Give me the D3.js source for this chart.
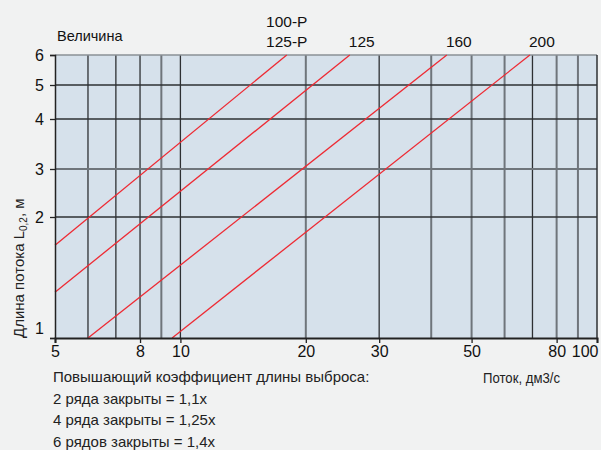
<!DOCTYPE html>
<html><head><meta charset="utf-8">
<script src="https://cdn.jsdelivr.net/npm/d3@7"></script>
<style>
body{margin:0;background:#f1f2f2;}
svg{display:block;font-family:"Liberation Sans",Arial,sans-serif;}
</style></head>
<body><svg id="c" width="601" height="450"></svg>
<script>
// ---- data ----
const xTickLabels = [5, 8, 10, 20, 30, 50, 80, 100];
const xGrid = [6, 7, 8, 9, 10, 20, 30, 40, 50, 60, 70, 80, 90];
const xGridDark = [6, 7, 8, 10, 30, 70];
const yTickLabels = [1, 2, 3, 4, 5, 6];
const yGrid = [2, 3, 4, 5];
const yGridDark = [2, 4, 5];
// each series: two endpoints [flow dm3/s, length m]
const seriesNames = ["100-Р\n125-Р", "125", "160", "200"];
const seriesFlow = [[5, 18.0], [5, 25.5], [6.0, 43.6], [9.55, 69.0]];
const seriesLength = [[1.70, 6], [1.30, 6], [1, 6], [1, 6]];
const noteLines = ["Повышающий коэффициент длины выброса:", "2 ряда закрыты = 1,1x", "4 ряда закрыты = 1,25x", "6 рядов закрыты = 1,4x"];

const svg = d3.select("#c");
const L = 55, R = 597, T = 55, B = 338;
const x = d3.scaleLog().domain([5, 100]).range([L, R]);
const y = d3.scaleLog().domain([1, 2, 3, 4, 5, 6]).range([B, 217, 169, 119, 85, T]);

svg.append("rect").attr("x", L).attr("y", T).attr("width", R - L).attr("height", B - T).attr("fill", "#d6e1eb");

// grid
svg.append("g").selectAll("line").data(xGrid).join("line")
  .attr("x1", d => x(d)).attr("x2", d => x(d)).attr("y1", T).attr("y2", B)
  .attr("stroke", d => xGridDark.includes(d) ? "#2e3033" : "#6f757b")
  .attr("stroke-width", d => xGridDark.includes(d) ? 1.3 : 2);
svg.append("g").selectAll("line").data(yGrid).join("line")
  .attr("y1", d => y(d)).attr("y2", d => y(d)).attr("x1", L).attr("x2", R)
  .attr("stroke", d => yGridDark.includes(d) ? "#2e3033" : "#6f757b")
  .attr("stroke-width", d => yGridDark.includes(d) ? 1.3 : 2);
// borders
svg.append("line").attr("x1", L).attr("x2", R).attr("y1", T).attr("y2", T).attr("stroke", "#8a9096").attr("stroke-width", 1.5);
svg.append("line").attr("x1", R).attr("x2", R).attr("y1", T).attr("y2", B).attr("stroke", "#2e3033").attr("stroke-width", 1.5);

// red lines
const line = d3.line().x(d => x(d[0])).y(d => y(d[1]));
seriesFlow.forEach((fl, i) => {
  const pts = fl.map((f, j) => [f, seriesLength[i][j]]);
  svg.append("path").attr("d", line(pts)).attr("fill", "none").attr("stroke", "#ee2a33").attr("stroke-width", 1.3);
});

// axes
const xAxis = d3.axisBottom(x).tickValues(xTickLabels).tickFormat(d3.format("d")).tickSize(5).tickPadding(3);
const gx = svg.append("g").attr("transform", `translate(0,${B})`).call(xAxis);
gx.select(".domain").attr("stroke", "#222").attr("stroke-width", 2);
gx.selectAll(".tick line").attr("stroke", "#222").attr("stroke-width", 1.3);
gx.selectAll("text").attr("font-size", 16).attr("fill", "#111").attr("font-family", "Liberation Sans, Arial");
gx.selectAll("text").filter(d => d === 100).attr("text-anchor", "end").attr("dx", 1);

const yAxis = d3.axisLeft(y).tickValues(yTickLabels).tickFormat(d3.format("d")).tickSize(5).tickPadding(6);
const gy = svg.append("g").attr("transform", `translate(${L},0)`).call(yAxis);
gy.select(".domain").attr("stroke", "#222").attr("stroke-width", 1.5);
gy.selectAll(".tick line").attr("stroke", "#222").attr("stroke-width", 1.3);
gy.selectAll("text").attr("font-size", 16).attr("fill", "#111").attr("font-family", "Liberation Sans, Arial");
gy.selectAll("text").filter(d => d === 1).attr("dy", "-0.3em");

// series labels at top end of each line
seriesNames.forEach((name, i) => {
  const fx = x(seriesFlow[i][1]);
  const parts = name.split("\n");
  parts.forEach((p, k) => {
    svg.append("text").attr("x", fx + (i === 0 ? 0 : 12)).attr("y", 47 - (parts.length - 1 - k) * 20)
      .attr("text-anchor", "middle").attr("font-size", 15.5).attr("fill", "#111").text(p);
  });
});

svg.append("text").attr("x", 57).attr("y", 41).attr("font-size", 14.5).attr("fill", "#111").text("Величина");

// y title
const yt = svg.append("text").attr("transform", `translate(24,${B}) rotate(-90)`).attr("font-size", 15).attr("fill", "#222");
yt.append("tspan").text("Длина потока L");
yt.append("tspan").attr("font-size", 10).attr("dy", 3).text("0,2");
yt.append("tspan").attr("dy", -3).text(", м");

svg.append("text").attr("x", 483).attr("y", 383).attr("font-size", 14).attr("fill", "#222")
  .attr("textLength", 77).attr("lengthAdjust", "spacingAndGlyphs").text("Поток, дм3/с");

svg.append("g").selectAll("text").data(noteLines).join("text")
  .attr("x", 53).attr("y", (d, i) => 382 + i * 21.7).attr("font-size", 15).attr("fill", "#222").text(d => d);
</script></body></html>
